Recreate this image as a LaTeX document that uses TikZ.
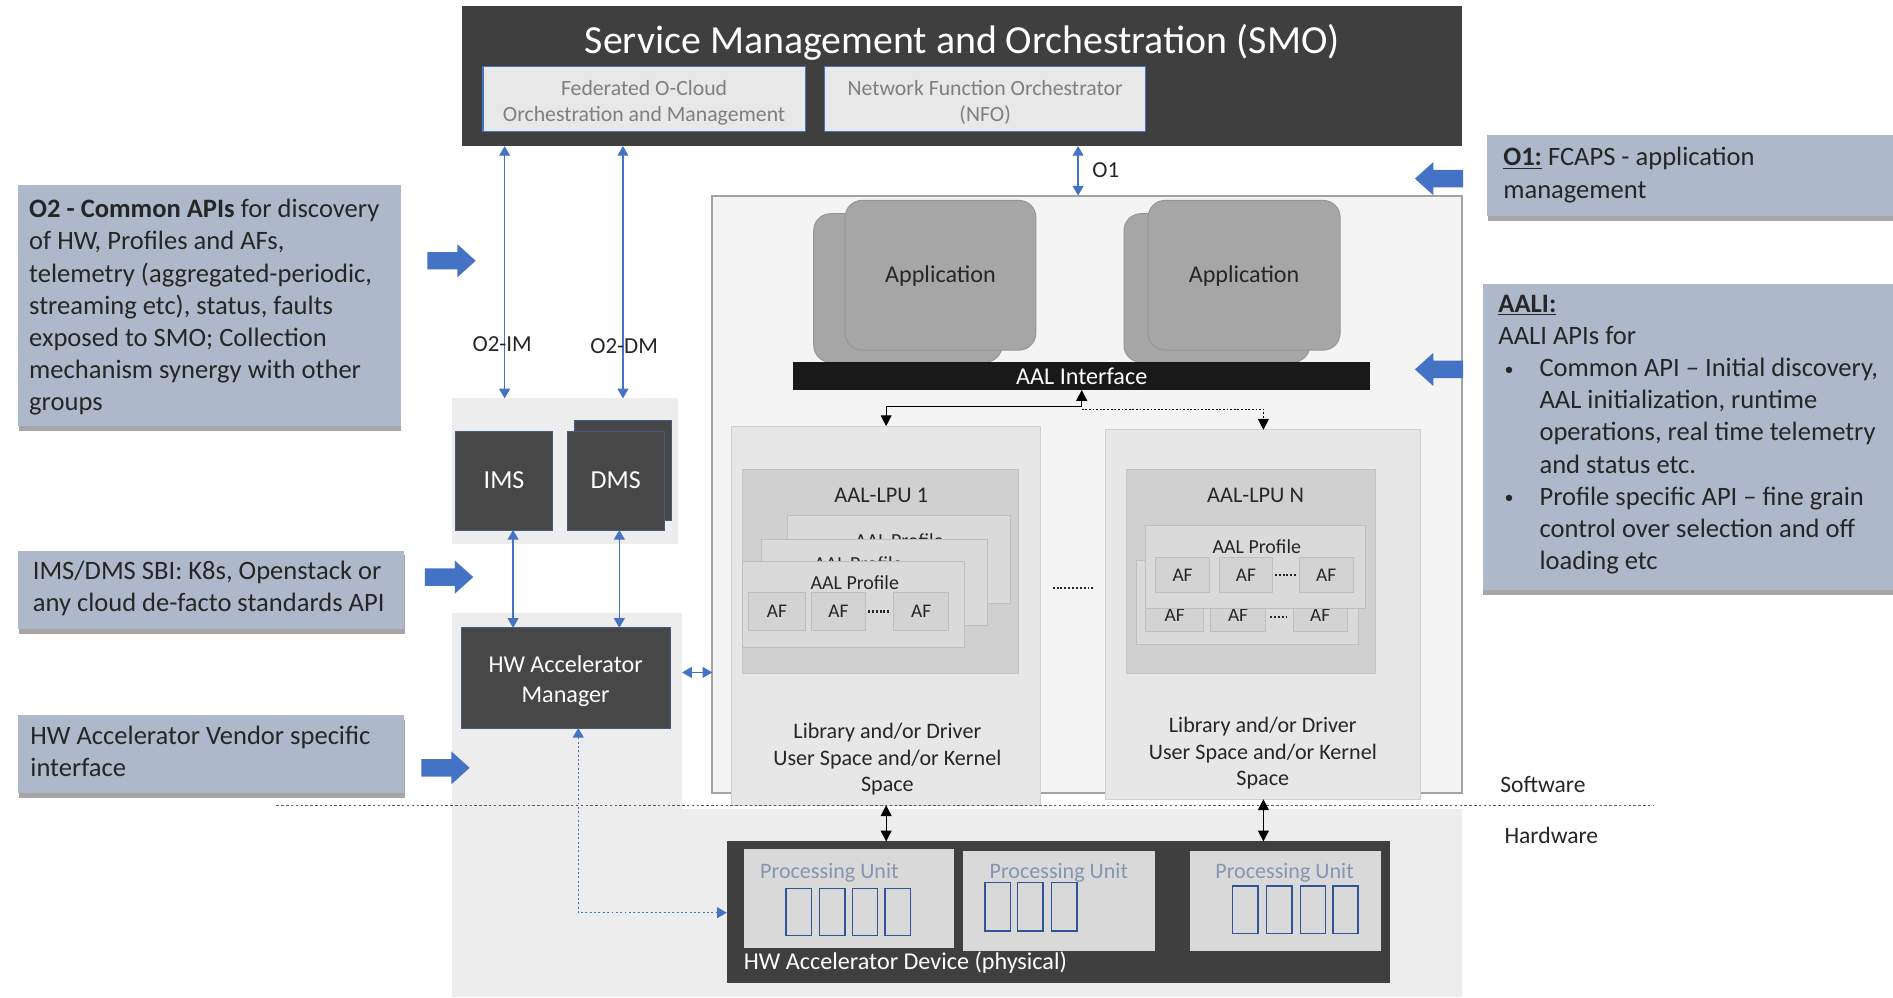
\documentclass[tikz,border=0pt]{standalone}
\usepackage{fontspec}
\setmainfont{Carlito}
\usetikzlibrary{fit,shapes.arrows,arrows.meta,shadows}

\definecolor{smogray}{HTML}{3F3F3F}
\definecolor{smoinner}{HTML}{E8E8E8}
\definecolor{boxdark}{HTML}{474747}
\definecolor{calloutfill}{HTML}{ADB9CA}
\definecolor{txt}{HTML}{262626}
\definecolor{lightbg}{HTML}{EDEDED}
\definecolor{swfill}{HTML}{F4F4F4}
\definecolor{swline}{HTML}{A3A3A3}
\definecolor{colfill}{HTML}{E7E7E7}
\definecolor{colline}{HTML}{D0D0D0}
\definecolor{lpufill}{HTML}{D0D0D0}
\definecolor{lpuline}{HTML}{C4C4C4}
\definecolor{proffill}{HTML}{DADADA}
\definecolor{profline}{HTML}{BEBEBE}
\definecolor{affill}{HTML}{D3D3D3}
\definecolor{appfill}{HTML}{A6A6A6}
\definecolor{appline}{HTML}{969696}
\definecolor{accent}{HTML}{4472C4}
\definecolor{pufill}{HTML}{D9D9D9}
\definecolor{putext}{HTML}{8496B0}
\definecolor{cellline}{HTML}{2F5597}
\definecolor{subtext}{HTML}{7F7F7F}

\newcommand{\pxfont}[2]{\fontsize{#1}{#2}\selectfont}
\newcommand{\smallbullet}{\hspace*{5pt}\makebox[29pt][l]{\raisebox{1pt}{\pxfont{15}{15}\textbullet}}}

\tikzset{
  region/.style={rectangle, inner sep=0pt, outer sep=0pt},
  panel/.style={region, fill=lightbg},
  darkbox/.style={region, fill=boxdark, draw=accent!45!boxdark, line width=0.8pt},
  whitetext/.style={text=white, inner sep=0pt, align=center},
  smobox/.style={region, fill=smoinner, draw=accent, line width=1pt},
  smotext/.style={text=subtext, inner sep=0pt, align=center, font=\pxfont{18}{22}},
  callout/.style={region, fill=calloutfill, drop shadow={shadow xshift=0.5pt, shadow yshift=-4pt, opacity=0.35, fill=black}},
  calltext/.style={anchor=west, align=left, text=txt, font=\pxfont{22}{26.6}, inner sep=0pt},
  link/.style={draw=accent, line width=1.1pt, {Triangle[width=9pt,length=8pt]}-{Triangle[width=9pt,length=8pt]}},
  blockarrow/.style={single arrow, fill=accent, minimum height=40pt, minimum width=27pt, single arrow head extend=6.5pt, single arrow tip angle=84, inner xsep=0pt, inner ysep=7pt, outer sep=0pt},
  app/.style={region, fill=appfill, draw=appline, line width=0.8pt, rounded corners=14pt},
  column/.style={region, fill=colfill, draw=colline, line width=0.8pt},
  lpu/.style={region, fill=lpufill, draw=lpuline, line width=0.8pt},
  profile/.style={region, fill=proffill, draw=profline, line width=0.8pt},
  afbox/.style={region, fill=affill, draw=profline, line width=0.8pt},
  aftext/.style={text=txt, inner sep=0pt, font=\pxfont{16}{16}},
  ellip/.style={draw=txt, line width=2pt, dash pattern=on 1.6pt off 1.6pt},
  pubox/.style={region, fill=pufill},
  cell/.style={region, draw=cellline, line width=1.2pt},
  label/.style={text=txt, inner sep=0pt},
  karrow/.style={draw=black, line width=1pt, {Triangle[width=9pt,length=9pt]}-{Triangle[width=9pt,length=9pt]}},
  ktip/.style={draw=black, line width=1pt, -{Triangle[width=9pt,length=9pt]}},
}

\begin{document}
\begin{tikzpicture}[x=1pt,y=-1pt]
\useasboundingbox (0,0) rectangle (1568,826);
\fill[white] (0,0) rectangle (1568,826);

% light background panels
\node[panel, fit={(374,330) (562,451)}] (imsbg) {};
\node[panel, fit={(374,508) (565,670)}] (hwambg) {};
\node[panel, fit={(374,670) (1211,826)}] (hwbg) {};

% software domain frame
\node[region, fill=swfill, draw=swline, line width=1.6pt, fit={(590,162) (1211,657)}] (sw) {};

% SMO
\node[region, fill=smogray, fit={(383,5) (1211,121)}] (smo) {};
\node[text=white, font=\pxfont{33}{40}, inner sep=0pt] (smotitle) at (797,35) {Service Management and Orchestration (SMO)};
\node[smobox, fit={(400,55) (667,109)}] (foc) {};
\node[smotext] (foct) at ([yshift=-3pt]foc.center) {Federated O-Cloud\\Orchestration and Management};
\node[smobox, fit={(683,55) (949,109)}] (nfo) {};
\node[smotext] (nfot) at ([yshift=-3pt]nfo.center) {Network Function Orchestrator\\(NFO)};

% applications
\node[app, fit={(674,177) (830,300)}] (app1b) {};
\node[app, fit={(700,166) (858,290)}] (app1) {};
\node[label, font=\pxfont{20}{24}] (app1t) at ([yshift=-1pt]app1.center) {Application};
\node[app, fit={(931,177) (1085,300)}] (app2b) {};
\node[app, fit={(951,166) (1110,290)}] (app2) {};
\node[label, font=\pxfont{20}{24}] (app2t) at ([yshift=-1pt]app2.center) {Application};

% AAL interface bar
\node[region, fill=black!90, fit={(657,300) (1135,323)}] (aal) {};
\node[whitetext, font=\pxfont{20}{24}] (aalt) at (aal.center) {AAL Interface};

% LPU columns
\node[column, fit={(606,353) (862,667)}] (col1) {};
\node[column, fit={(916,356) (1177,662)}] (colN) {};

% AAL-LPU 1
\node[lpu, fit={(615,389) (844,558)}] (lpu1) {};
\node[label, font=\pxfont{18.5}{22}] (lpu1t) at (730,410) {AAL-LPU 1};
\node[profile, fit={(652,427) (837,500)}] (p13) {};
\node[label, font=\pxfont{16.5}{20}] (p13t) at (745,448) {AAL Profile};
\node[profile, fit={(631,447) (818,518)}] (p12) {};
\node[label, font=\pxfont{16.5}{20}] (p12t) at (711,467) {AAL Profile};
\node[profile, fit={(615,465) (799,536)}] (p11) {};
\node[label, font=\pxfont{16.5}{20}] (p11t) at (708,483) {AAL Profile};
\node[afbox, fit={(620,491) (667,522)}] (af11) {};
\node[afbox, fit={(672,491) (717,522)}] (af12) {};
\node[afbox, fit={(740,491) (786,522)}] (af13) {};
\foreach \n in {af11,af12,af13} \node[aftext] (\n t) at (\n.center) {AF};
\draw[ellip] ([xshift=2pt]af12.east) -- ([xshift=-2pt]af13.west);

% AAL-LPU N
\node[lpu, fit={(933,389) (1139,558)}] (lpuN) {};
\node[label, font=\pxfont{18.5}{22}] (lpuNt) at (1040,410) {AAL-LPU N};
\node[profile, fit={(941,464) (1125,534)}] (pN2) {};
\node[afbox, fit={(949,493) (997,523)}] (afN21) {};
\node[afbox, fit={(1003,493) (1048,523)}] (afN22) {};
\node[afbox, fit={(1071,493) (1116,523)}] (afN23) {};
\foreach \n in {afN21,afN22,afN23} \node[aftext] (\n t) at ([yshift=-2pt]\n.center) {AF};
\draw[ellip] ([xshift=4pt]afN22.east |- 0,511) -- ([xshift=-4pt]afN23.west |- 0,511);
\node[profile, fit={(949,435) (1131,504)}] (pN1) {};
\node[label, font=\pxfont{16.5}{20}] (pN1t) at (1041,453) {AAL Profile};
\node[afbox, fit={(957,462) (1002,491)}] (afN11) {};
\node[afbox, fit={(1010,462) (1054,491)}] (afN12) {};
\node[afbox, fit={(1076,462) (1121,491)}] (afN13) {};
\foreach \n in {afN11,afN12,afN13} \node[aftext] (\n t) at (\n.center) {AF};
\draw[ellip] ([xshift=2pt]afN12.east) -- ([xshift=-2pt]afN13.west);

% ellipsis between the LPU columns
\coordinate (eL) at (872,487);
\coordinate (eR) at (907,487);
\draw[ellip] (eL) -- (eR);

% library / driver captions
\node[label, align=center, font=\pxfont{18.3}{22}] (lib1) at (735,629) {Library and/or Driver\\User Space and/or Kernel\\Space};
\node[label, align=center, font=\pxfont{18.3}{22}] (libN) at (1046,624) {Library and/or Driver\\User Space and/or Kernel\\Space};

% hardware accelerator device
\node[region, fill=smogray, fit={(602,697) (1151,814)}] (dev) {};
\node[text=white, font=\pxfont{20}{24}, inner sep=0pt, anchor=west] (devt) at (616,797) {HW Accelerator Device (physical)};
\node[pubox, fit={(616,703) (790,785)}] (pu1) {};
\node[pubox, fit={(798,705) (957,788)}] (pu2) {};
\node[pubox, fit={(986,705) (1144,788)}] (pu3) {};
\node[label, text=putext, font=\pxfont{18.3}{22}] (pu1t) at (687,723) {Processing Unit};
\node[label, text=putext, font=\pxfont{18.3}{22}] (pu2t) at (877,723) {Processing Unit};
\node[label, text=putext, font=\pxfont{18.3}{22}] (pu3t) at (1064,723) {Processing Unit};
\foreach \x [count=\i] in {651,679,706,733}
  \node[cell, fit={(\x,736) (\x+21,775)}] (pu1c\i) {};
\foreach \x [count=\i] in {816,843,871}
  \node[cell, fit={(\x,731) (\x+21,771)}] (pu2c\i) {};
\foreach \x [count=\i] in {1021,1049,1077,1104}
  \node[cell, fit={(\x,734) (\x+21,773)}] (pu3c\i) {};

% IMS / DMS / HW accelerator manager
\node[darkbox, fit={(377,357) (458,439)}] (ims) {};
\node[whitetext, font=\pxfont{21.5}{26}] (imst) at (ims.center) {IMS};
\node[darkbox, fit={(476,348) (556,431)}] (dmsb) {};
\node[darkbox, fit={(470,357) (550,439)}] (dms) {};
\node[whitetext, font=\pxfont{21.5}{26}] (dmst) at (dms.center) {DMS};
\node[darkbox, fit={(382,520) (555,603)}] (hwam) {};
\node[whitetext, font=\pxfont{20}{25}] (hwamt) at ([yshift=-2.5pt]hwam.center) {HW Accelerator\\Manager};

% callouts
\node[callout, fit={(15,153) (332,353)}] (co2) {};
\node[calltext] (co2t) at (24,254.5) {\textbf{O2 - Common APIs} for discovery\\of HW, Profiles and AFs,\\telemetry (aggregated-periodic,\\streaming etc), status, faults\\exposed to SMO; Collection\\mechanism synergy with other\\groups};
\node[callout, fit={(15,456) (335,521)}] (csbi) {};
\node[calltext] (csbit) at (27,487.5) {IMS/DMS SBI: K8s, Openstack or\\any cloud de-facto standards API};
\node[callout, fit={(15,592) (335,657)}] (cven) {};
\node[calltext] (cvent) at (25,622.5) {HW Accelerator Vendor specific\\interface};
\node[callout, fit={(1232,112) (1568,179)}] (co1) {};
\node[calltext] (co1t) at (1245,145) {\underline{\textbf{O1:}} FCAPS - application\\management};
\node[callout, fit={(1228,235) (1568,489)}] (caali) {};
\node[calltext] (caalit) at (1241,360) {\underline{\textbf{AALI:}}\\AALI APIs for\\
  \smallbullet Common API -- Initial discovery,\\
  \hspace*{34pt}AAL initialization, runtime\\
  \hspace*{34pt}operations, real time telemetry\\
  \hspace*{34pt}and status etc.\\
  \smallbullet Profile specific API -- fine grain\\
  \hspace*{34pt}control over selection and off\\
  \hspace*{34pt}loading etc};

% block arrows pointing at the interfaces
\node[blockarrow] (ba2) at (370,216) {};
\node[blockarrow] (basbi) at (368,478) {};
\node[blockarrow] (baven) at (365,636) {};
\node[blockarrow, shape border rotate=180] (ba1) at (1196,148) {};
\node[blockarrow, shape border rotate=180] (baaali) at (1196,306) {};

% O2 / O1 reference points
\coordinate (imx) at (418,0);
\coordinate (dmx) at (516,0);
\coordinate (o1x) at (893,0);
\draw[link] (smo.south -| imx) -- (imsbg.north -| imx);
\draw[link] (smo.south -| dmx) -- (imsbg.north -| dmx);
\draw[link] (smo.south -| o1x) -- (sw.north -| o1x);
\node[label, font=\pxfont{19}{22}] (lo2im) at (416,285) {O2-IM};
\node[label, font=\pxfont{19}{22}] (lo2dm) at (517,287) {O2-DM};
\node[label, font=\pxfont{19}{22}] (lo1) at (916,141) {O1};

% IMS/DMS to manager
\coordinate (ihx) at (425,0);
\coordinate (dhx) at (513,0);
\draw[link] (ims.south -| ihx) -- (hwam.north -| ihx);
\draw[link] (dms.south -| dhx) -- (hwam.north -| dhx);
\coordinate (hy) at (0,557);
\draw[draw=accent, line width=1pt, {Triangle[width=9pt,length=8pt]}-{Triangle[width=9pt,length=8pt]}] (hwambg.east |- hy) -- (sw.west |- hy);

% manager to device (vendor specific)
\coordinate (dvx) at (479,0);
\coordinate (dvy) at (0,756);
\draw[draw=accent, line width=1.1pt, dash pattern=on 1.6pt off 2pt, {Triangle[width=9pt,length=8pt]}-{Triangle[width=9pt,length=8pt]}] (hwam.south -| dvx) -- (dvx |- dvy) -- (dev.west |- dvy);

% AAL interface fan-out
\coordinate (aj) at (896,337);
\coordinate (ajd) at (896,339);
\draw[ktip] (aj) -- (aal.south -| aj);
\draw[ktip] (aj) -| (col1.north);
\draw[ktip, dash pattern=on 1.5pt off 1.5pt] (ajd) -| (colN.north);

% software / hardware boundary
\coordinate (dl) at (229,667);
\coordinate (dr) at (1370,667);
\draw[draw=black!65, line width=1pt, dash pattern=on 2pt off 2pt] (dl) -- (dr);
\node[label, font=\pxfont{19.5}{24}] (lsw) at (1278,650) {Software};
\node[label, font=\pxfont{19.5}{24}] (lhw) at (1285,692) {Hardware};
\draw[karrow] (col1.south) -- (dev.north -| col1.south);
\draw[karrow] (colN.south) -- (dev.north -| colN.south);
\end{tikzpicture}
\end{document}
